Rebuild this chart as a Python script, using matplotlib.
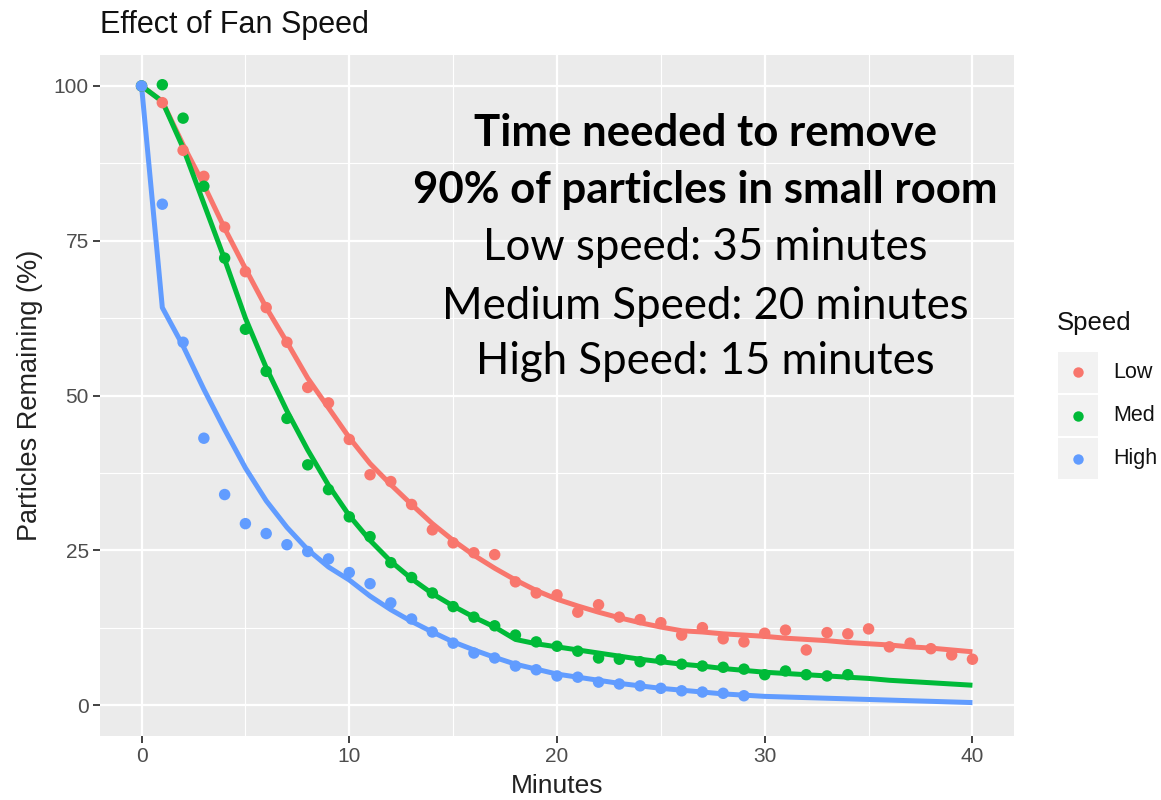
import matplotlib
matplotlib.use("Agg")
import matplotlib.pyplot as plt
from matplotlib.patches import Rectangle
from matplotlib.lines import Line2D

# --- data ---
speeds = ["Low", "Med", "High"]
colors = ["#F8766D", "#00BA38", "#619CFF"]

low_t = list(range(0, 41))
low_pts = [100, 97.3, 89.6, 85.4, 77.2, 70.0, 64.2, 58.6, 51.3, 48.8,
           42.9, 37.2, 36.1, 32.4, 28.3, 26.2, 24.6, 24.3, 19.9, 18.1,
           17.8, 15.0, 16.2, 14.2, 13.8, 13.3, 11.3, 12.5, 10.7, 10.2,
           11.6, 12.1, 8.9, 11.7, 11.5, 12.3, 9.4, 10.0, 9.1, 8.1, 7.4]

med_t = list(range(0, 35))
med_pts = [100, 100.2, 94.8, 83.8, 72.2, 60.7, 53.9, 46.3, 38.8, 34.8,
           30.4, 27.2, 23.0, 20.6, 18.1, 15.9, 14.2, 12.8, 11.3, 10.2,
           9.5, 8.7, 7.6, 7.4, 7.0, 7.3, 6.6, 6.3, 6.1, 5.8,
           4.9, 5.5, 4.9, 4.7, 4.9]

high_t = list(range(0, 30))
high_pts = [100, 80.9, 58.6, 43.1, 34.0, 29.3, 27.7, 25.9, 24.8, 23.6,
            21.4, 19.6, 16.5, 13.9, 11.8, 10.0, 8.4, 7.6, 6.3, 5.7,
            4.7, 4.5, 3.7, 3.4, 3.1, 2.7, 2.3, 2.1, 1.9, 1.5]

# fitted curves, one value per minute
fit_t = list(range(0, 41))
low_fit = [100, 97.5, 90.5, 84.0, 77.0, 70.5, 64.2, 58.6, 52.8, 48.0,
           43.2, 39.0, 35.6, 32.4, 29.3, 26.6, 24.2, 22.1, 20.2, 18.5,
           17.1, 16.0, 15.0, 14.1, 13.3, 12.6, 12.0, 11.8, 11.5, 11.3,
           11.1, 10.8, 10.6, 10.4, 10.1, 9.9, 9.7, 9.4, 9.2, 8.9, 8.6]
med_fit = [100, 97.5, 90.0, 81.0, 72.0, 62.5, 54.5, 47.5, 41.2, 35.5,
           30.6, 26.6, 23.2, 20.4, 18.0, 16.0, 14.2, 12.6, 10.6, 9.9,
           9.4, 8.9, 8.4, 7.9, 7.4, 7.0, 6.6, 6.3, 5.9, 5.6,
           5.3, 5.1, 4.9, 4.7, 4.5, 4.3, 4.0, 3.8, 3.6, 3.4, 3.2]
high_fit = [100, 64.2, 58.0, 51.0, 44.5, 38.3, 33.0, 28.7, 25.1, 22.3,
            20.2, 17.6, 15.4, 13.5, 11.8, 10.2, 8.9, 7.7, 6.6, 5.8,
            5.0, 4.5, 4.0, 3.5, 3.1, 2.7, 2.4, 2.1, 1.8, 1.6,
            1.4, 1.3, 1.2, 1.1, 1.0, 0.9, 0.8, 0.7, 0.6, 0.5, 0.4]

x_ticks = [0, 10, 20, 30, 40]
y_ticks = [0, 25, 50, 75, 100]

note_lines = ["Time needed to remove", "90% of particles in small room",
              "Low speed: 35 minutes", "Medium Speed: 20 minutes",
              "High Speed: 15 minutes"]

# --- figure ---
plt.rcParams['font.family'] = ['Liberation Sans', 'DejaVu Sans']
fig = plt.figure(figsize=(11.61, 8.0), dpi=100)
ax = fig.add_axes([100 / 1161, 64 / 800, 914 / 1161, 681 / 800])
ax.set_facecolor("#EBEBEB")

ax.set_xlim(-2, 42)
ax.set_ylim(-5, 105)
ax.set_xticks(x_ticks)
ax.set_yticks(y_ticks)
ax.set_xticks([5, 15, 25, 35], minor=True)
ax.set_yticks([12.5, 37.5, 62.5, 87.5], minor=True)
ax.grid(which="major", color="white", linewidth=1.6)
ax.grid(which="minor", color="white", linewidth=0.8)
ax.set_axisbelow(True)
for s in ax.spines.values():
    s.set_visible(False)
ax.tick_params(which="major", length=5, width=1.3, color="#333333",
               labelsize=15, labelcolor="#4D4D4D", pad=3)
ax.tick_params(which="minor", length=0)

series = [(low_t, low_pts, low_fit), (med_t, med_pts, med_fit),
          (high_t, high_pts, high_fit)]
for (t, pts, fit), c in zip(series, colors):
    ax.plot(fit_t, fit, color=c, linewidth=3.6, solid_capstyle="butt", zorder=2)
    ax.scatter(t, pts, s=68, color=c, edgecolors="none", zorder=3)

ax.set_xlabel("Minutes", fontsize=19, color="#222222", labelpad=6)
ax.set_ylabel("Particles Remaining (%)", fontsize=19.5, color="#222222", labelpad=8)
fig.text(100 / 1161, 1 - 25 / 800, "Effect of Fan Speed", fontsize=22,
         color="#111111", va="center", ha="left")

# annotation block
ys = [133, 190, 248, 306, 362]
for i, (txt, yy) in enumerate(zip(note_lines, ys)):
    fig.text(705 / 1161, 1 - yy / 800, txt, ha="center", va="center",
             fontsize=31.5, family=["Lato", "DejaVu Sans"],
             fontweight="bold" if i < 2 else "normal", color="black")

# legend drawn by hand, ggplot style
fig.text(1057 / 1161, 1 - 323 / 800, "Speed", fontsize=18.5, va="center",
         ha="left", color="#111111")
key_top = [352, 395, 438]
for name, c, top in zip(speeds, colors, key_top):
    fig.patches.append(Rectangle((1058 / 1161, 1 - (top + 41) / 800), 40 / 1161, 41 / 800,
                                 transform=fig.transFigure, facecolor="#F2F2F2",
                                 edgecolor="none"))
    fig.lines.append(Line2D([1078 / 1161], [1 - (top + 20.5) / 800], marker="o",
                            markersize=7.5, color=c, markeredgewidth=0,
                            transform=fig.transFigure))
    fig.text(1113 / 1161, 1 - (top + 20.5) / 800, name, fontsize=15.5,
             va="center", ha="left", color="#111111")

fig.savefig("out.png", dpi=100)
